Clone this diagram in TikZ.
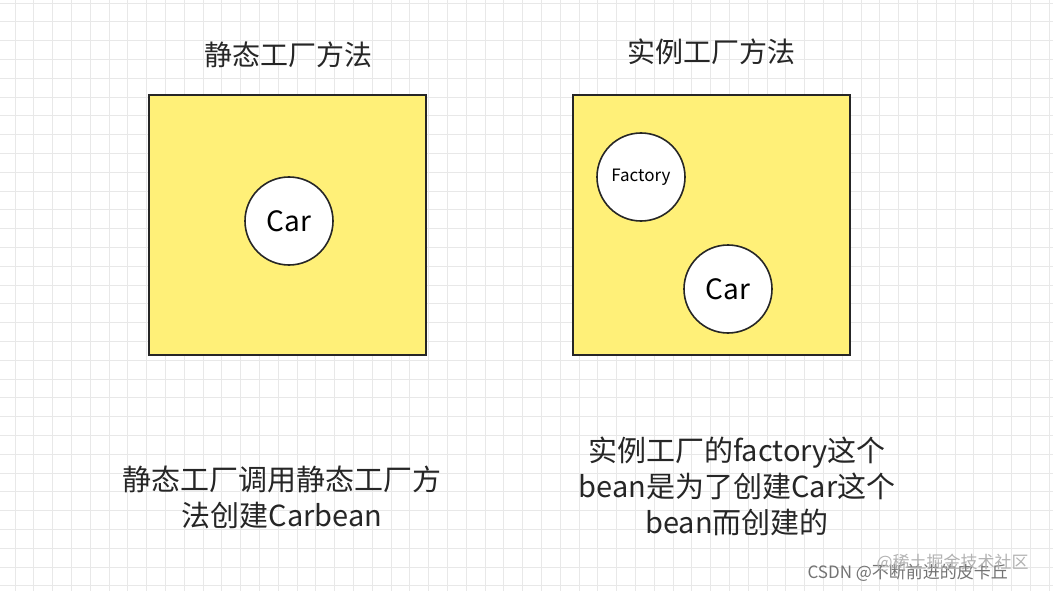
\documentclass[tikz,border=0pt]{standalone}
\usepackage{fontspec}
\setmainfont{Noto Sans CJK SC}
\begin{document}
\begin{tikzpicture}[x=1pt,y=-1pt,
  panel/.style={draw=black!85,line width=1.6pt,fill={rgb,255:red,255;green,240;blue,120}},
  ball/.style={circle,draw=black!85,line width=1.6pt,fill=white,minimum size=88pt,inner sep=0pt},
  txt/.style={font=\fontsize{29}{36}\selectfont,text=black!85,align=center}]
\useasboundingbox (0,0) rectangle (1053,591);
\fill[white] (0,0) rectangle (1053,591);
\foreach \i in {0,...,56} {\draw[black!9,line width=0.8pt] (15+18.8*\i,0) -- (15+18.8*\i,591);}
\foreach \j in {0,...,31} {\draw[black!9,line width=0.8pt] (0,3+18.8*\j) -- (1053,3+18.8*\j);}
\node[txt,font=\fontsize{28}{36}\selectfont] (t1) at (288,55) {静态工厂方法};
\node[txt,font=\fontsize{28}{36}\selectfont] (t2) at (711,52) {实例工厂方法};
\draw[panel] (149,95) rectangle (426,355);
\draw[panel] (573,95) rectangle (850,355);
\node[ball,font=\fontsize{28}{30}\selectfont] (car1) at (289,221) {Car};
\node[ball,font=\fontsize{17}{20}\selectfont] (fac) at (641,177) {Factory};
\node[ball,font=\fontsize{28}{30}\selectfont] (car2) at (728,289) {Car};
\node[txt] (b1) at (282,497) {静态工厂调用静态工厂方\\法创建Carbean};
\node[txt] (b2) at (737,486) {实例工厂的factory这个\\bean是为了创建Car这个\\bean而创建的};
\node[font=\fontsize{17}{18}\selectfont,text=black!55,anchor=west] (w1) at (804,573) {CSDN @不断前进的皮卡丘};
\node[font=\fontsize{17}{18}\selectfont,text=black!30,anchor=west] (w2) at (873,563) {@稀土掘金技术社区};
\end{tikzpicture}
\end{document}
